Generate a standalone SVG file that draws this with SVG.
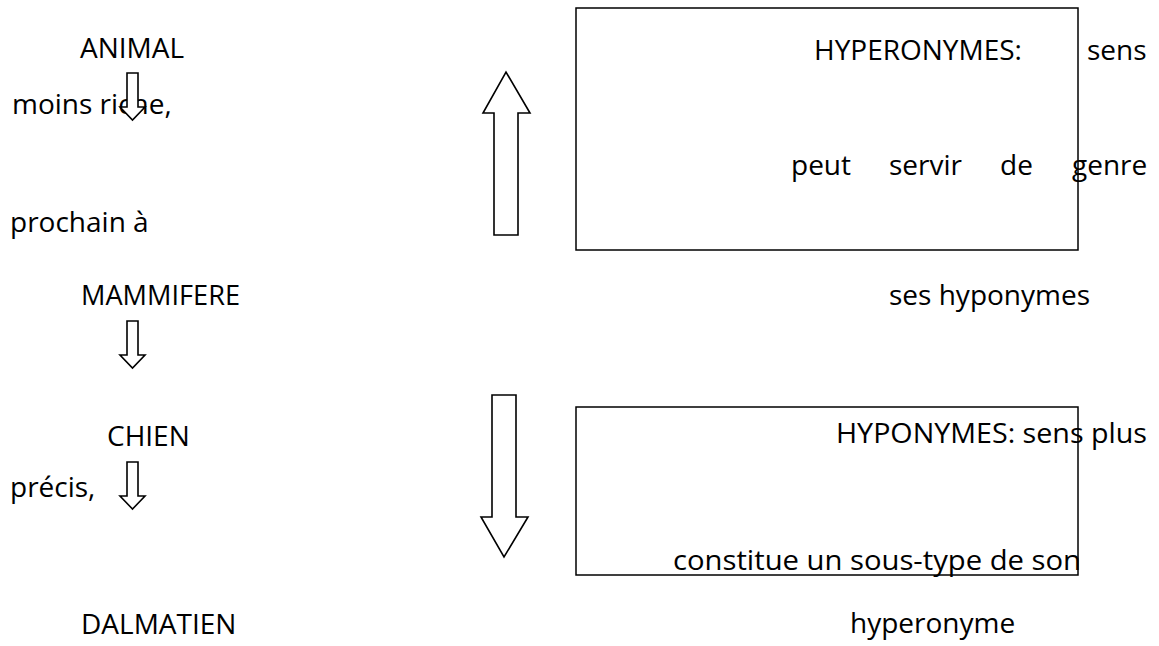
<svg xmlns="http://www.w3.org/2000/svg" width="1159" height="646" viewBox="0 0 1159 646">
  <style>
    text { font-family: "Open Sans", "DejaVu Sans", sans-serif; font-size: 28px; fill: #000; }
    .box { fill: none; stroke: #000; stroke-width: 1.5; }
    .arrow { fill: #fff; stroke: #000; stroke-width: 1.6; stroke-linejoin: miter; }
  </style>
  <rect width="1159" height="646" fill="#fff"/>

  <!-- hierarchy column -->
  <g id="node-animal"><text x="80" y="58">ANIMAL</text></g>
  <g id="note-moins-riche"><text x="12" y="114">moins riche,</text></g>
  <g id="note-prochain"><text x="10" y="232">prochain à</text></g>
  <g id="node-mammifere"><text x="81" y="305" textLength="159" lengthAdjust="spacingAndGlyphs">MAMMIFERE</text></g>
  <g id="node-chien"><text x="107" y="446">CHIEN</text></g>
  <g id="note-precis"><text x="10" y="497">précis,</text></g>
  <g id="node-dalmatien"><text x="81" y="634">DALMATIEN</text></g>

  <!-- hyperonym box -->
  <g id="node-hyperonymes">
    <rect class="box" x="576" y="8" width="502" height="242"/>
    <text x="814" y="60">HYPERONYMES:</text>
    <text x="1087" y="60">sens</text>
    <text x="791" y="175">peut</text>
    <text x="889" y="175">servir</text>
    <text x="1000" y="175">de</text>
    <text x="1072" y="175">genre</text>
    <text x="889" y="305">ses hyponymes</text>
  </g>

  <!-- hyponym box -->
  <g id="node-hyponymes">
    <rect class="box" x="576" y="407" width="502" height="168"/>
    <text x="836" y="443" textLength="311" lengthAdjust="spacingAndGlyphs">HYPONYMES: sens plus</text>
    <text x="673" y="570" textLength="408" lengthAdjust="spacingAndGlyphs">constitue un sous-type de son</text>
    <text x="850" y="633">hyperonyme</text>
  </g>

  <!-- block arrows -->
  <g id="connectors">
    <path class="arrow" d="M127,73 H138 V107 H145 L132.5,120 L120,107 H127 Z"/>
    <path class="arrow" d="M127,321 H138 V355 H145 L132.5,368 L120,355 H127 Z"/>
    <path class="arrow" d="M127,462 H138 V496 H145 L132.5,509 L120,496 H127 Z"/>
    <path class="arrow" d="M494,235 V113 H483 L506,72 L530,113 H518 V235 Z"/>
    <path class="arrow" d="M492,395 H516 V517 H528 L504,557 L481,517 H492 Z"/>
  </g>
</svg>
